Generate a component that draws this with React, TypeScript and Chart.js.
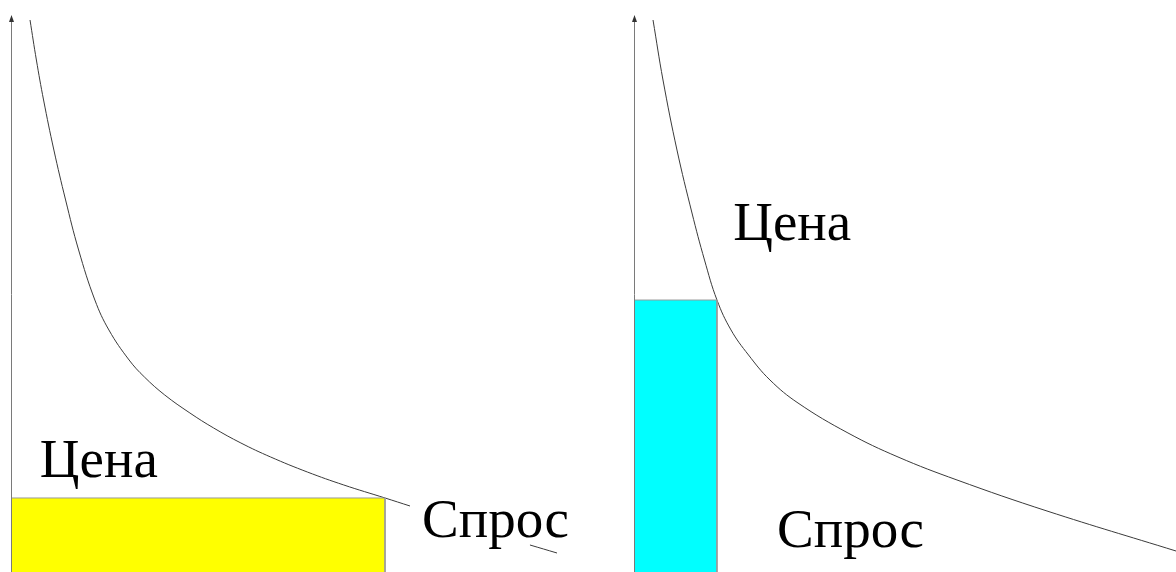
import React, { useEffect, useRef } from "react";
import { Chart, registerables } from "chart.js";

Chart.register(...registerables);

// Left panel: demand curve (quantity, price); the null is where the label hides the curve
const leftQty = [3.23, 4.31, 5.53, 7.28, 9.27, 11.48, 14.24, 16.62, 20.05, 22.65, 26.1, 30.37, 34.41, 39.03, 44.07, 50.32, 56.5, 63.5, 67.74, 78, 88.11, 92.7];
const leftPrice = [99.1, 91.92, 84.74, 75.76, 66.79, 57.81, 48.83, 43.45, 38.06, 35.01, 31.78, 28.55, 25.85, 23.16, 20.65, 17.95, 15.62, 13.29, 11.85, null, 4.85, 3.41];
const leftRectQty = 63.5;
const leftRectPrice = 13.29;

// Right panel: demand curve
const rightQty = [3.51, 5.35, 7.93, 10.7, 13.01, 15.31, 17.9, 21.13, 25.09, 30.26, 39.48, 48.71, 59.59, 76.2, 100];
const rightPrice = [99.1, 88.33, 75.76, 64.45, 56.01, 48.83, 43.45, 38.96, 34.47, 30.34, 24.96, 20.65, 16.52, 10.95, 3.77];
const rightRectQty = 15.31;
const rightRectPrice = 48.83;

const priceLabel = "Цена";
const demandLabel = "Спрос";

type Lbl = { text: string; x: number; y: number };

function makeConfig(
  qty: number[],
  price: (number | null)[],
  rectQty: number,
  rectPrice: number,
  rectColor: string,
  labels: Lbl[],
  padding: { left: number; right: number; top: number; bottom: number }
): any {
  const curve = qty.map((q, i) => ({ x: q, y: price[i] }));
  const rect = [
    { x: 0, y: rectPrice },
    { x: rectQty, y: rectPrice },
    { x: rectQty, y: 0 },
  ];
  const overlay = {
    id: "overlay",
    afterDraw(chart: any) {
      const { ctx, chartArea, scales } = chart;
      const x0 = scales.x.getPixelForValue(0);
      ctx.save();
      ctx.strokeStyle = "#7a7a7a";
      ctx.lineWidth = 1;
      ctx.beginPath();
      ctx.moveTo(x0 + 0.5, chartArea.bottom);
      ctx.lineTo(x0 + 0.5, chartArea.top + 2);
      ctx.stroke();
      ctx.fillStyle = "#333";
      ctx.beginPath();
      ctx.moveTo(x0 + 0.5, chartArea.top);
      ctx.lineTo(x0 - 2, chartArea.top + 7);
      ctx.lineTo(x0 + 3, chartArea.top + 7);
      ctx.closePath();
      ctx.fill();
      ctx.fillStyle = "#000";
      ctx.font = '55px "Liberation Serif", "Times New Roman", serif';
      ctx.textBaseline = "alphabetic";
      ctx.textAlign = "left";
      labels.forEach((l) => {
        ctx.fillText(l.text, scales.x.getPixelForValue(l.x), scales.y.getPixelForValue(l.y));
      });
      ctx.restore();
    },
  };
  return {
    type: "line",
    data: {
      datasets: [
        {
          data: rect,
          borderColor: "#9a9a9a",
          borderWidth: 1,
          backgroundColor: rectColor,
          fill: "origin",
          pointRadius: 0,
          tension: 0,
        },
        {
          data: curve,
          borderColor: "#3a3a3a",
          borderWidth: 1,
          fill: false,
          pointRadius: 0,
          tension: 0.4,
          spanGaps: false,
        },
      ],
    },
    options: {
      animation: false,
      responsive: false,
      maintainAspectRatio: false,
      layout: { padding },
      plugins: { legend: { display: false }, tooltip: { enabled: false } },
      scales: {
        x: { type: "linear", min: 0, max: 100, display: false },
        y: { type: "linear", min: 0, max: 100, display: false },
      },
      datasets: { line: { clip: false } },
    },
    plugins: [overlay],
  };
}

function Panel(props: { left: number; width: number; config: any }) {
  const ref = useRef<HTMLCanvasElement | null>(null);
  useEffect(() => {
    if (!ref.current) return;
    const chart = new Chart(ref.current, props.config);
    return () => chart.destroy();
  }, []);
  return (
    <div style={{ position: "absolute", left: props.left, top: 0, width: props.width, height: 572 }}>
      <canvas ref={ref} width={props.width} height={572} style={{ width: props.width, height: 572, display: "block" }} />
    </div>
  );
}

export default function App() {
  const leftCfg = makeConfig(
    leftQty,
    leftPrice,
    leftRectQty,
    leftRectPrice,
    "#ffff00",
    [
      { text: priceLabel, x: 4.9, y: 17.1 },
      { text: demandLabel, x: 69.8, y: 6.3 },
    ],
    { left: 11, right: 10, top: 15, bottom: 0 }
  );
  const rightCfg = makeConfig(
    rightQty,
    rightPrice,
    rightRectQty,
    rightRectPrice,
    "#00ffff",
    [
      { text: priceLabel, x: 18.3, y: 59.6 },
      { text: demandLabel, x: 26.4, y: 4.5 },
    ],
    { left: 14, right: 0, top: 15, bottom: 0 }
  );
  return (
    <div style={{ position: "absolute", left: 0, top: 0, width: 1176, height: 572, background: "#fff", overflow: "hidden" }}>
      <Panel left={0} width={610} config={leftCfg} />
      <Panel left={620} width={556} config={rightCfg} />
    </div>
  );
}
